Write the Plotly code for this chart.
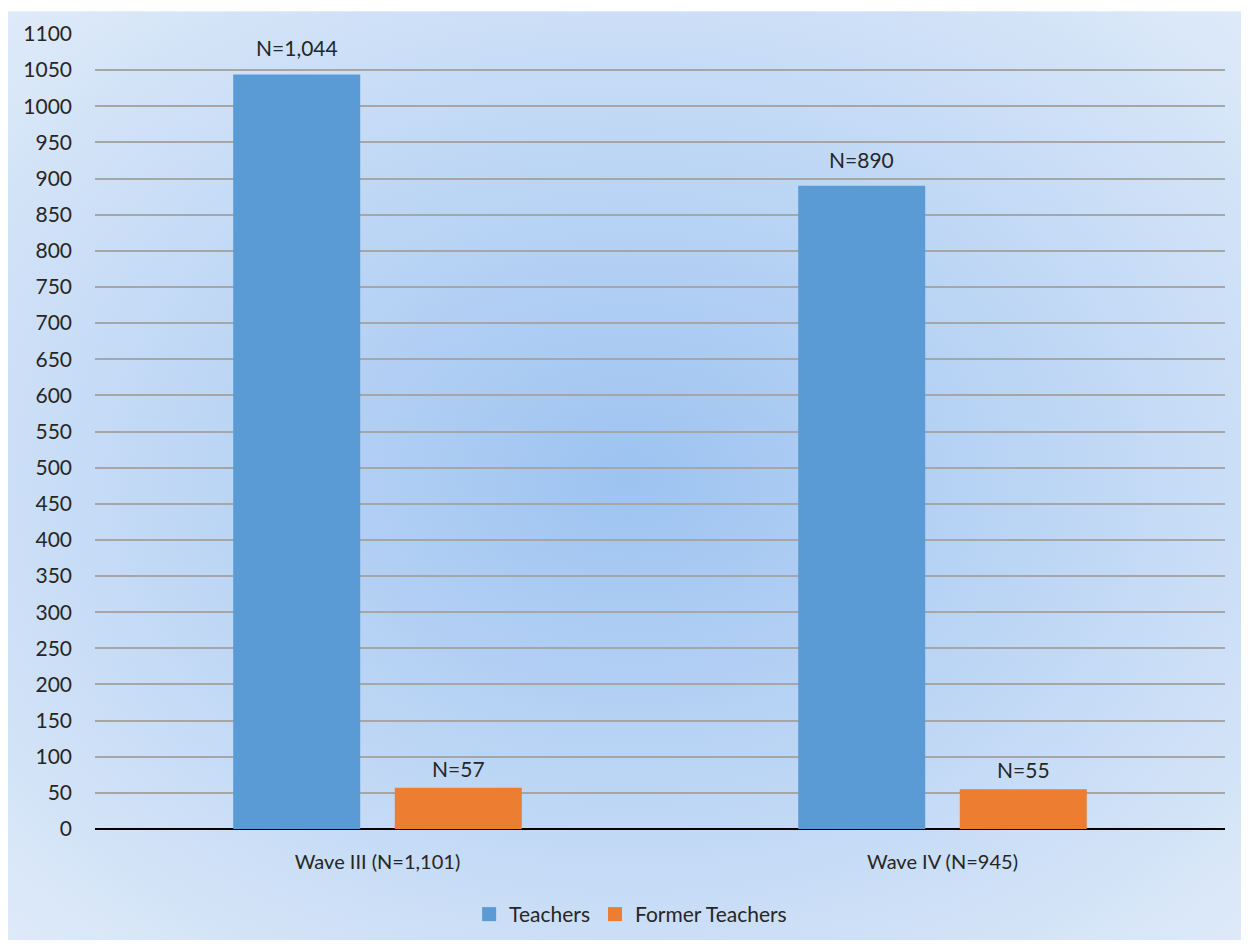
import base64
import plotly.graph_objects as go

categories = ["Wave III (N=1,101)", "Wave IV (N=945)"]
teachers = [1044, 890]
former_teachers = [57, 55]
teachers_labels = ["N=1,044", "N=890"]
former_labels = ["N=57", "N=55"]
tick_vals = list(range(0, 1101, 50))

FONT = "Lato, 'Open Sans', sans-serif"
TXT = "#262626"
FS = 20
BLUE, ORANGE = "#5B9BD5", "#ED7D31"

# page has an 8px body margin, so the figure is sized to fill the rest
W, H = 1241, 939
L, R, T, B = 87, 24, 23, 116
pw, ph = W - L - R, H - T - B
BARGAP, GROUPGAP = 0.428, 0.214

svg = (
    '<svg xmlns="http://www.w3.org/2000/svg" width="1000" height="1000" preserveAspectRatio="none">'
    '<defs><radialGradient id="g" cx="50%" cy="50%" r="72%">'
    '<stop offset="0%" stop-color="#9DC3F1"/>'
    '<stop offset="100%" stop-color="#E0EBF9"/>'
    '</radialGradient></defs>'
    '<rect width="1000" height="1000" fill="url(#g)"/></svg>'
)
bg_src = "data:image/svg+xml;base64," + base64.b64encode(svg.encode()).decode()

fig = go.Figure()
fig.add_trace(go.Bar(
    x=categories, y=teachers, name="Teachers", showlegend=False, legendgroup="t",
    marker=dict(color=BLUE, line=dict(width=0)), hovertext=teachers_labels,
))
fig.add_trace(go.Bar(
    x=categories, y=former_teachers, name="Former Teachers", showlegend=False, legendgroup="f",
    marker=dict(color=ORANGE, line=dict(width=0)), hovertext=former_labels,
))
# legend entries with larger square swatches
for name, col, grp in (("Teachers", BLUE, "t"), ("Former Teachers", ORANGE, "f")):
    fig.add_trace(go.Scatter(
        x=[None], y=[None], mode="markers", name=name, legendgroup=grp,
        marker=dict(symbol="square", size=14, color=col, line=dict(width=0)),
    ))

# bar value labels placed above each bar (offset within its group)
slot = (pw / len(categories)) * (1 - BARGAP) / 2
annotations = []
for series, labels, side, lift in ((teachers, teachers_labels, -1, 12),
                                   (former_teachers, former_labels, 1, 5)):
    for cat, val, lab in zip(categories, series, labels):
        annotations.append(dict(
            x=cat, y=val, xref="x", yref="y", text=lab, showarrow=False,
            xshift=side * slot / 2, yshift=lift, yanchor="bottom", xanchor="center",
            font=dict(family=FONT, size=21, color=TXT),
        ))

bg_x0 = -L / pw
bg_x1 = (W - L) / pw
bg_top = 1 + T / ph
bg_bot = (H - B - 935) / ph

fig.update_layout(
    width=W, height=H,
    margin=dict(l=L, r=R, t=T, b=B),
    paper_bgcolor="white",
    plot_bgcolor="rgba(0,0,0,0)",
    barmode="group", bargap=BARGAP, bargroupgap=GROUPGAP,
    font=dict(family=FONT, size=FS, color=TXT),
    showlegend=True,
    legend=dict(orientation="h", x=0.474, xanchor="center", y=-0.1075, yanchor="middle",
                font=dict(family=FONT, size=21, color=TXT), bgcolor="rgba(0,0,0,0)",
                traceorder="normal", itemwidth=30),
    annotations=annotations,
    images=[dict(source=bg_src, xref="paper", yref="paper", x=bg_x0, y=bg_top,
                 sizex=bg_x1 - bg_x0, sizey=bg_top - bg_bot, sizing="stretch",
                 xanchor="left", yanchor="top", layer="below")],
    xaxis=dict(showgrid=False, showline=False, ticks="", tickfont=dict(size=FS, color=TXT),
               ticklabelstandoff=19),
    yaxis=dict(range=[0, 1100], tickvals=tick_vals, showgrid=True, gridcolor="#A6A6A6",
               gridwidth=1.5, zeroline=True, zerolinecolor="#000000", zerolinewidth=2,
               showline=False, ticks="", tickfont=dict(size=21, color=TXT), ticklabelstandoff=22),
)

fig.write_html("out.html")
